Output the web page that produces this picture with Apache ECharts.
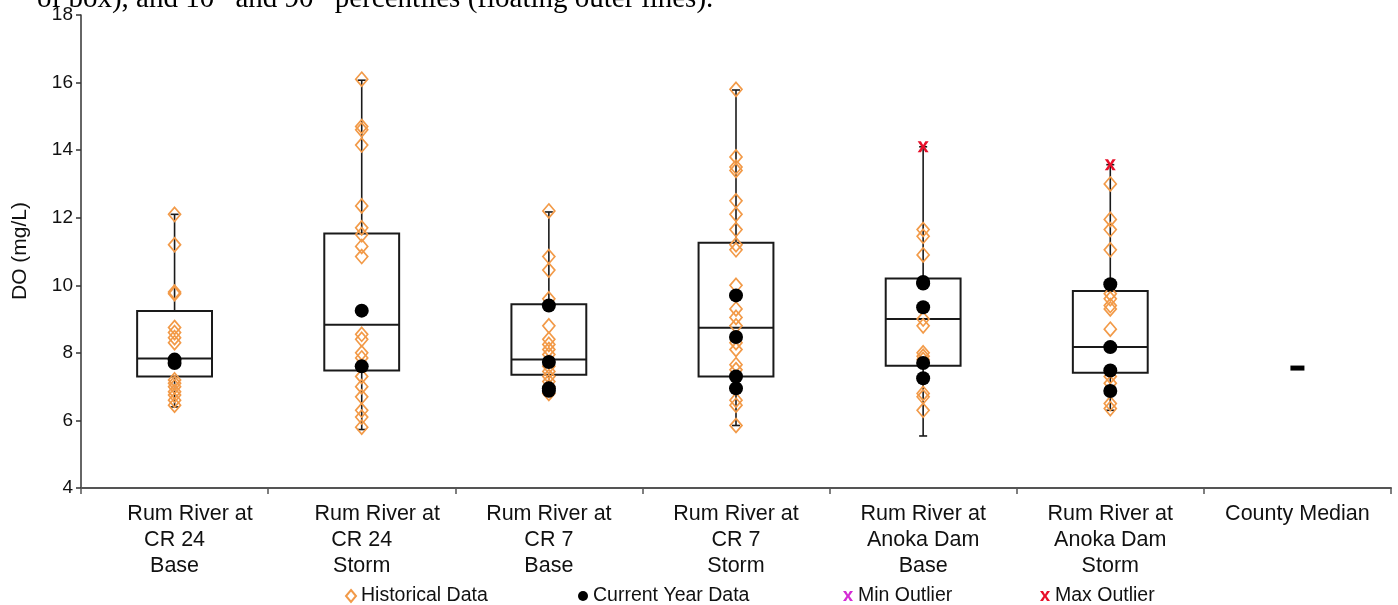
<!DOCTYPE html>
<html>
<head>
<meta charset="utf-8">
<script src="https://cdn.jsdelivr.net/npm/echarts@6/dist/echarts.min.js"></script>
<style>
html,body{margin:0;padding:0;background:#fff;}
#chart{width:1398px;height:605px;}
</style>
</head>
<body>
<div id="chart"></div>
<script>
// ---- categories ----
var categories = [
  "Rum River at\nCR 24\nBase",
  "Rum River at\nCR 24\nStorm",
  "Rum River at\nCR 7\nBase",
  "Rum River at\nCR 7\nStorm",
  "Rum River at\nAnoka Dam\nBase",
  "Rum River at\nAnoka Dam\nStorm",
  "County Median"
];
var yTicks = [4, 6, 8, 10, 12, 14, 16, 18];

// ---- box statistics: [10th pct, 25th, median, 75th, 90th] ----
var boxCR24Base   = [6.4, 7.3, 7.83, 9.24, 12.1];
var boxCR24Storm  = [5.73, 7.48, 8.83, 11.53, 16.07];
var boxCR7Base    = [6.72, 7.35, 7.8, 9.44, 12.17];
var boxCR7Storm   = [5.85, 7.3, 8.74, 11.26, 15.78];
var boxAnokaBase  = [5.54, 7.62, 9.0, 10.2, 14.1];
var boxAnokaStorm = [6.3, 7.41, 8.17, 9.83, 13.57];

// ---- historical data ----
var histCR24Base   = [12.1, 11.2, 9.8, 9.75, 8.75, 8.6, 8.45, 8.3, 7.2, 7.1, 7.0, 6.85, 6.75, 6.6, 6.45];
var histCR24Storm  = [16.1, 14.7, 14.6, 14.15, 12.35, 11.7, 11.5, 11.15, 10.85, 8.55, 8.4, 8.0, 7.85, 7.3, 7.0, 6.7, 6.3, 6.1, 5.8];
var histCR7Base    = [12.2, 10.85, 10.45, 9.6, 8.8, 8.4, 8.25, 8.1, 7.95, 7.6, 7.45, 7.3, 7.15, 7.0, 6.8];
var histCR7Storm   = [15.8, 13.8, 13.5, 13.4, 12.5, 12.1, 11.65, 11.2, 11.05, 10.0, 9.3, 9.05, 8.8, 8.3, 8.1, 7.65, 7.5, 6.6, 6.45, 5.85];
var histAnokaBase  = [11.65, 11.45, 10.9, 9.0, 8.8, 8.0, 7.9, 7.8, 6.8, 6.7, 6.3];
var histAnokaStorm = [13.0, 11.95, 11.65, 11.05, 9.75, 9.6, 9.4, 9.3, 8.7, 7.3, 7.1, 6.5, 6.35];

// ---- current year data ----
var curCR24Base   = [7.8, 7.7];
var curCR24Storm  = [9.25, 7.6];
var curCR7Base    = [9.4, 7.73, 6.95, 6.88];
var curCR7Storm   = [9.7, 8.47, 7.3, 6.95];
var curAnokaBase  = [10.1, 10.05, 9.35, 7.7, 7.25];
var curAnokaStorm = [10.03, 8.17, 7.48, 6.87];

// ---- outliers ----
var minOutliers = [[], [], [], [], [], []];
var maxOutliers = [[], [], [], [], [14.1], [13.57]];

// ---- county median ----
var countyMedian = [7.55];

var boxes = [boxCR24Base, boxCR24Storm, boxCR7Base, boxCR7Storm, boxAnokaBase, boxAnokaStorm];
var hist = [histCR24Base, histCR24Storm, histCR7Base, histCR7Storm, histAnokaBase, histAnokaStorm];
var cur = [curCR24Base, curCR24Storm, curCR7Base, curCR7Storm, curAnokaBase, curAnokaStorm];

function toPoints(groups) {
  var out = [];
  groups.forEach(function (g, i) { g.forEach(function (v) { out.push([i, v]); }); });
  return out;
}
var boxData = boxes.map(function (b, i) { return [i].concat(b); });

var ORANGE = '#F29A48';
var XPATH = 'path://M0,0 L3,0 L5,3.5 L7,0 L10,0 L6.5,5 L10,10 L7,10 L5,6.5 L3,10 L0,10 L3.5,5 Z';
var SANS = '"Liberation Sans", Arial, sans-serif';

function renderBox(params, api) {
  var x = api.value(0);
  var p10 = api.coord([x, api.value(1)]);
  var q1 = api.coord([x, api.value(2)]);
  var med = api.coord([x, api.value(3)]);
  var q3 = api.coord([x, api.value(4)]);
  var p90 = api.coord([x, api.value(5)]);
  var cx = p10[0];
  var w = api.size([1, 0])[0] * 0.4;
  var cap = 4;
  var lineStyle = { stroke: '#1a1a1a', lineWidth: 1.6, fill: null };
  var boxStyle = { stroke: '#1a1a1a', lineWidth: 2, fill: null };
  return {
    type: 'group',
    children: [
      { type: 'line', shape: { x1: cx, y1: p90[1], x2: cx, y2: q3[1] }, style: lineStyle },
      { type: 'line', shape: { x1: cx, y1: q1[1], x2: cx, y2: p10[1] }, style: lineStyle },
      { type: 'line', shape: { x1: cx - cap, y1: p90[1], x2: cx + cap, y2: p90[1] }, style: lineStyle },
      { type: 'line', shape: { x1: cx - cap, y1: p10[1], x2: cx + cap, y2: p10[1] }, style: lineStyle },
      { type: 'rect', shape: { x: cx - w / 2, y: q3[1], width: w, height: q1[1] - q3[1] }, style: boxStyle },
      { type: 'line', shape: { x1: cx - w / 2, y1: med[1], x2: cx + w / 2, y2: med[1] }, style: boxStyle }
    ]
  };
}

function labelFormatter(value, index) {
  var lines = value.split('\n');
  if (index <= 1 && lines.length > 1) {
    // first line sits slightly right of centre in the original layout
    return '{o|' + lines[0] + '}\n' + lines.slice(1).join('\n');
  }
  return value;
}

var chart = echarts.init(document.getElementById('chart'), null, { renderer: 'canvas' });
var legendText = { fontFamily: SANS, fontSize: 19.5, color: '#111' };
var option = {
  backgroundColor: '#fff',
  animation: false,
  grid: { left: 81, right: 7, top: 15, bottom: 117, containLabel: false },
  legend: [
    { data: ['Historical Data'], left: 340, top: 581, itemWidth: 10, itemHeight: 12, textStyle: legendText, selectedMode: false },
    { data: ['Current Year Data'], left: 573, top: 581, itemWidth: 10, itemHeight: 12, textStyle: legendText, selectedMode: false },
    { data: ['Min Outlier'], left: 838, top: 581, itemWidth: 10, itemHeight: 12, textStyle: legendText, selectedMode: false },
    { data: ['Max Outlier'], left: 1035, top: 581, itemWidth: 10, itemHeight: 12, textStyle: legendText, selectedMode: false }
  ],
  xAxis: {
    type: 'category',
    data: categories,
    boundaryGap: true,
    axisLine: { lineStyle: { color: '#555', width: 2 } },
    axisTick: { show: true, length: 6, lineStyle: { color: '#555', width: 1.5 } },
    axisLabel: {
      interval: 0, margin: 13, color: '#111',
      fontFamily: SANS, fontSize: 21.5, lineHeight: 26,
      formatter: labelFormatter,
      rich: {
        o: { fontFamily: SANS, fontSize: 21.5, lineHeight: 26, color: '#111', padding: [0, 0, 0, 31] }
      }
    },
    splitLine: { show: false }
  },
  yAxis: {
    type: 'value',
    min: yTicks[0], max: yTicks[yTicks.length - 1], interval: 2,
    axisLine: { show: true, lineStyle: { color: '#333', width: 1.5 } },
    axisTick: { show: true, length: 5, lineStyle: { color: '#333', width: 1.5 } },
    axisLabel: { margin: 8, color: '#111', fontFamily: SANS, fontSize: 19 },
    splitLine: { show: false }
  },
  graphic: [
    {
      type: 'text', x: 20, y: 251, rotation: Math.PI / 2,
      style: { text: 'DO (mg/L)', font: '21px "Liberation Sans", Arial, sans-serif', fill: '#111', align: 'center', verticalAlign: 'middle' }
    },
    {
      type: 'text', x: 37, y: 21,
      style: {
        text: '{n|of box), and 10}{s|th}{n| and 90}{s|th}{n| percentiles (floating outer lines).}',
        verticalAlign: 'bottom',
        rich: {
          n: { font: '29px "Liberation Serif", "Times New Roman", serif', fill: '#000' },
          s: { font: '18px "Liberation Serif", "Times New Roman", serif', fill: '#000', verticalAlign: 'top', padding: [0, 0, 26, 0] }
        }
      }
    }
  ],
  series: [
    {
      name: 'Boxes', type: 'custom', renderItem: renderBox, data: boxData, z: 1,
      encode: { x: 0, y: [1, 2, 3, 4, 5] }, silent: true
    },
    {
      name: 'Historical Data', type: 'scatter', data: toPoints(hist), z: 3,
      symbol: 'diamond', symbolSize: [12, 14],
      itemStyle: { color: 'rgba(255,255,255,0)', borderColor: ORANGE, borderWidth: 1.7, opacity: 1 }
    },
    {
      name: 'Current Year Data', type: 'scatter', data: toPoints(cur), z: 4,
      symbol: 'circle', symbolSize: 14,
      itemStyle: { color: '#000', opacity: 1 }
    },
    {
      name: 'Min Outlier', type: 'scatter', data: toPoints(minOutliers), z: 5,
      symbol: XPATH, symbolSize: 11, itemStyle: { color: '#D42BD4', opacity: 1 }
    },
    {
      name: 'Max Outlier', type: 'scatter', data: toPoints(maxOutliers), z: 5,
      symbol: XPATH, symbolSize: 11, itemStyle: { color: '#E8102A', opacity: 1 }
    },
    {
      name: 'County Median', type: 'scatter', data: countyMedian.map(function (v) { return [6, v]; }), z: 5,
      symbol: 'rect', symbolSize: [14, 5], itemStyle: { color: '#000', opacity: 1 }
    }
  ]
};
chart.setOption(option);
</script>
</body>
</html>
